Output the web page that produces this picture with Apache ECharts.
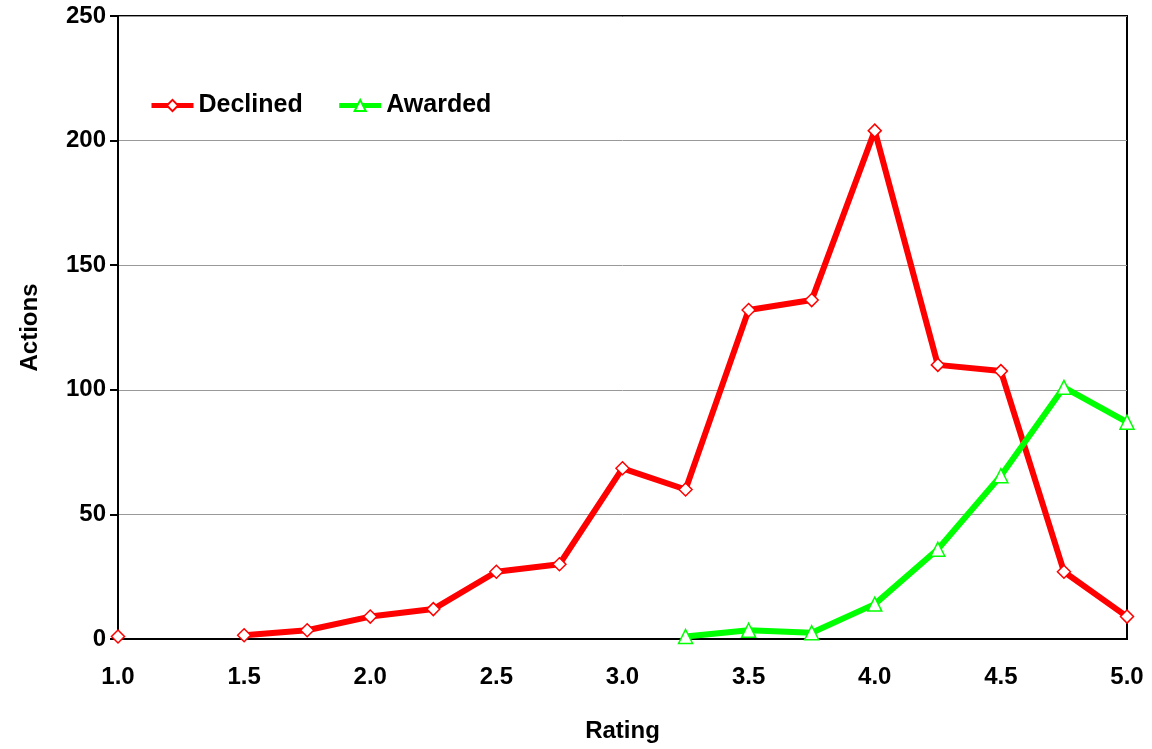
<!DOCTYPE html>
<html><head><meta charset="utf-8">
<script src="https://cdn.jsdelivr.net/npm/echarts@6/dist/echarts.min.js"></script>
<style>html,body{margin:0;padding:0;background:#fff}#c{width:1152px;height:749px}</style>
</head><body><div id="c"></div>
<script>
const ratings = [1.0,1.25,1.5,1.75,2.0,2.25,2.5,2.75,3.0,3.25,3.5,3.75,4.0,4.25,4.5,4.75,5.0];
const declined = [1,null,1.5,3.5,9,12,27,30,68.5,60,132,136,204,110,107.5,27,9];
const awarded = [null,null,null,null,null,null,null,null,null,1,3.5,2.5,14,36,65.5,101,87];
const xTicks = ['1.0','1.5','2.0','2.5','3.0','3.5','4.0','4.5','5.0'];

const F = 'Liberation Sans, Arial, sans-serif';
const pairs = arr => ratings.map((r,i)=>[r, arr[i]]);
const chart = echarts.init(document.getElementById('c'));
chart.setOption({
  animation:false,
  grid:{left:118,right:25,top:16,bottom:110,show:true,borderColor:'#000',borderWidth:2},
  legend:{left:144,top:88,itemWidth:42,itemHeight:14,itemGap:34,
    lineStyle:{width:5},
    textStyle:{fontFamily:F,fontWeight:'bold',fontSize:25,color:'#000'},
    data:['Declined','Awarded']},
  xAxis:{type:'value',min:1,max:5,interval:0.5,name:'Rating',nameLocation:'middle',nameGap:80,
    nameTextStyle:{fontFamily:F,fontWeight:'bold',fontSize:24,color:'#000'},
    axisLine:{show:true,onZero:false,lineStyle:{color:'#000',width:2}},
    axisTick:{show:false},splitLine:{show:false},
    axisLabel:{margin:26,fontFamily:F,fontWeight:'bold',fontSize:24,color:'#000',
      formatter:v=>{const s=v.toFixed(1);return xTicks.includes(s)?s:'';}}},
  yAxis:{type:'value',min:0,max:250,interval:50,name:'Actions',nameLocation:'middle',nameGap:76,
    nameTextStyle:{fontFamily:F,fontWeight:'bold',fontSize:24,color:'#000'},
    axisLine:{show:true,lineStyle:{color:'#000',width:2}},
    axisTick:{show:true,length:8,lineStyle:{color:'#000',width:2}},
    splitLine:{show:true,lineStyle:{color:'#999',width:1}},
    axisLabel:{margin:12,fontFamily:F,fontWeight:'bold',fontSize:24,color:'#000'}},
  series:[
    {name:'Declined',type:'line',data:pairs(declined),connectNulls:false,
     symbol:'diamond',symbolSize:13,showAllSymbol:true,
     lineStyle:{color:'#ff0000',width:6},
     itemStyle:{color:'#fff',borderColor:'#ff0000',borderWidth:1.5},z:3},
    {name:'Awarded',type:'line',data:pairs(awarded),connectNulls:false,
     symbol:'triangle',symbolSize:14,showAllSymbol:true,
     lineStyle:{color:'#00ff00',width:6},
     itemStyle:{color:'#fff',borderColor:'#00ff00',borderWidth:1.5},z:4}
  ]
});
</script></body></html>
